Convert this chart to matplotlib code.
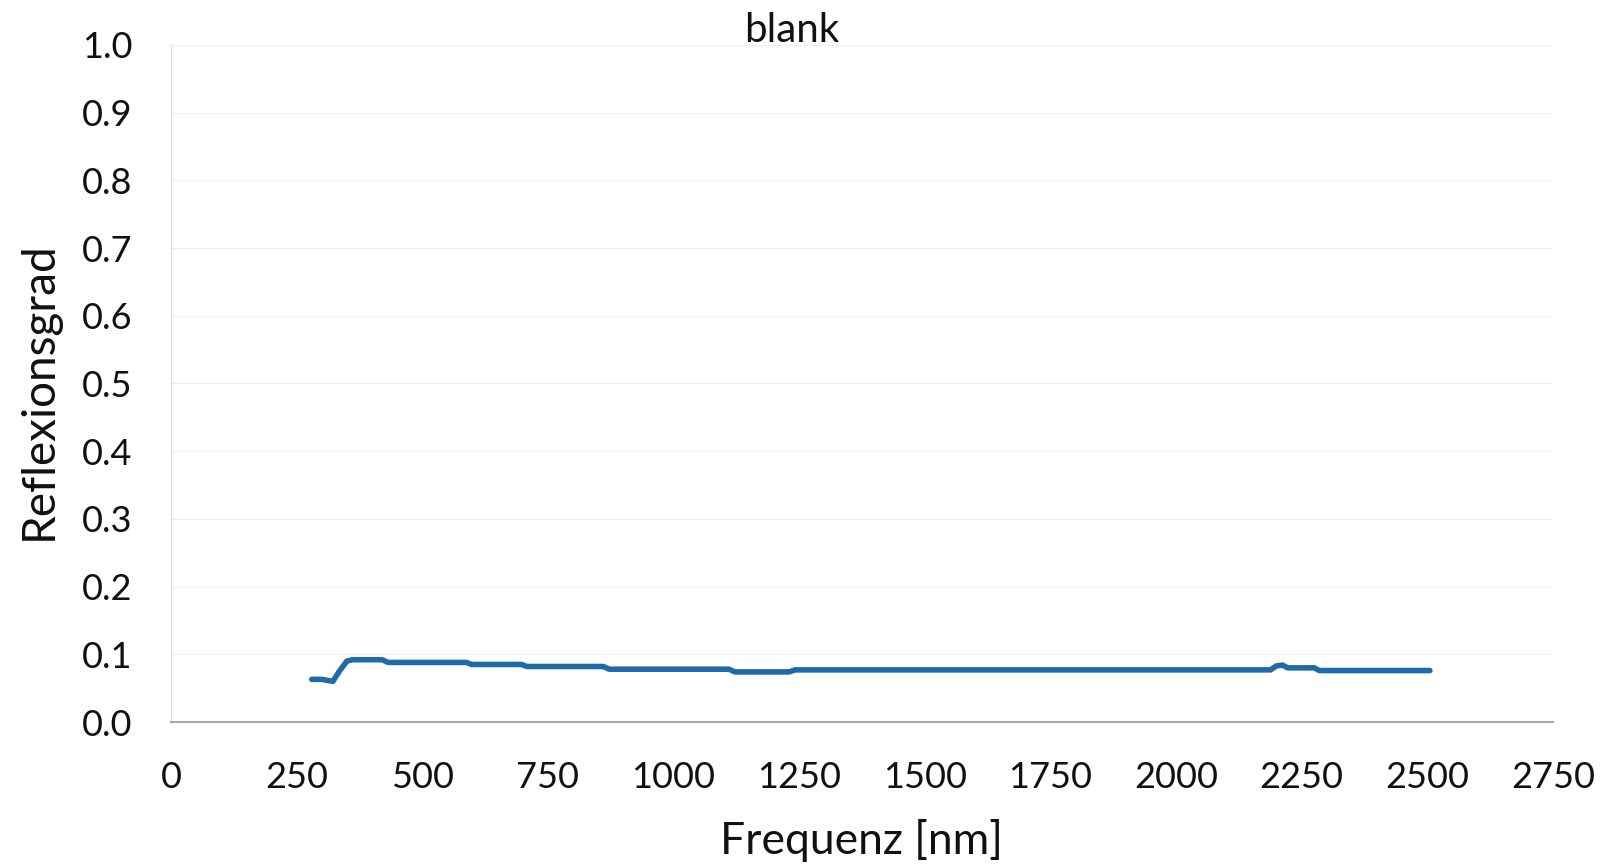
import matplotlib
matplotlib.use("Agg")
import matplotlib.pyplot as plt
import numpy as np

plt.rcParams['font.family'] = ['Lato', 'DejaVu Sans']

wavelength = [280, 300, 322, 335, 350, 362, 420, 432, 588, 598, 698, 708, 860, 872,
              1110, 1122, 1230, 1242, 2188, 2200, 2212, 2222, 2275, 2285, 2505]
reflectance = [0.063, 0.063, 0.060, 0.075, 0.090, 0.092, 0.092, 0.088, 0.088, 0.085,
               0.085, 0.082, 0.082, 0.078, 0.078, 0.074, 0.074, 0.077, 0.077, 0.083,
               0.084, 0.080, 0.080, 0.076, 0.076]

x_ticks = [0, 250, 500, 750, 1000, 1250, 1500, 1750, 2000, 2250, 2500, 2750]
y_ticks = [0.0, 0.1, 0.2, 0.3, 0.4, 0.5, 0.6, 0.7, 0.8, 0.9, 1.0]

W, H = 1603, 867
fig = plt.figure(figsize=(W / 100, H / 100), dpi=100)
ax = fig.add_axes([171 / W, 1 - 722 / H, 1382 / W, 677 / H])

ax.plot(wavelength, reflectance, color='#1f6aa8', lw=4, solid_joinstyle='round',
        solid_capstyle='round')

ax.set_xlim(0, 2750)
ax.set_ylim(0, 1.0)
ax.set_xticks(x_ticks)
ax.set_yticks(y_ticks)
ax.set_yticklabels([f"{v:.1f}" for v in y_ticks])
ax.tick_params(axis='both', length=0, labelsize=26, colors='#111111')
ax.tick_params(axis='x', pad=28)
ax.tick_params(axis='y', pad=28)

ax.grid(axis='y', color='#f0f0f0', lw=1)
ax.set_axisbelow(True)
for s in ['top', 'right']:
    ax.spines[s].set_visible(False)
ax.spines['left'].set_color('#dcdcdc')
ax.spines['bottom'].set_color('#a8a8a8')
ax.spines['bottom'].set_linewidth(1.5)

fig.text(861 / W, 1 - 840 / H, 'Frequenz [nm]', ha='center', va='center', fontsize=32,
         color='#111111')
fig.text(39 / W, 1 - 391 / H, 'Reflexionsgrad', ha='center', va='center', fontsize=33,
         rotation=90, color='#111111')
fig.text(792 / W, 1 - 30 / H, 'blank', ha='center', va='center', fontsize=29,
         color='#111111')

fig.savefig('out.png', dpi=100)
